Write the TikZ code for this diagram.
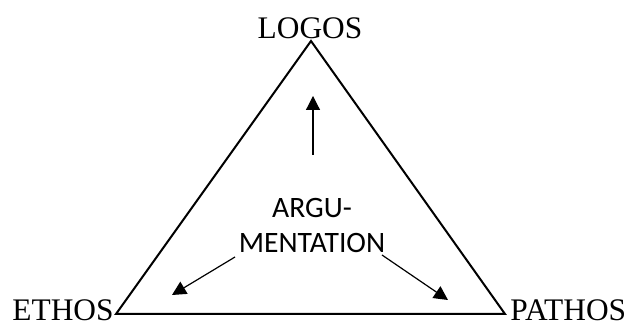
\documentclass[tikz,border=0pt]{standalone}
\usepackage{fontspec}
\setmainfont{Liberation Serif}
\newfontfamily\calibrifont{Carlito}
\usetikzlibrary{arrows.meta}
\tikzset{
  side/.style={line width=1pt, line join=miter},
  lbl/.style={inner sep=0pt, font=\fontsize{15.7}{18}\selectfont},
  midtext/.style={inner sep=0pt, anchor=base, font=\calibrifont\fontsize{14.8}{17}\selectfont},
  arr/.style={line width=0.6pt, -{Triangle[length=7pt,width=7pt]}}
}
\begin{document}
\begin{tikzpicture}[x=0.5pt,y=-0.5pt]
\useasboundingbox (0,0) rectangle (638,324);
% vertices
\coordinate (top) at (311,41);
\coordinate (bl) at (116,314);
\coordinate (br) at (505,314);
\draw[side] (top) -- (br) -- (bl) -- cycle;
% labels
\node[lbl, anchor=base] (logos) at (310,39) {LOGOS};
\node[lbl, anchor=base west] (ethos) at (12,321) {ETHOS};
\node[lbl, anchor=base west] (pathos) at (510,321) {PATHOS};
% centre text
\node[midtext] (argu) at (312,218) {ARGU-};
\node[midtext] (menta) at (312,253) {MENTATION};
% arrows
\coordinate (upstart) at (313,155);
\coordinate (uptip) at (313,96);
\coordinate (lstart) at (235,257);
\coordinate (ltip) at (172,295);
\coordinate (rstart) at (382,255);
\coordinate (rtip) at (448,300);
\draw[arr] (upstart) -- (uptip);
\draw[arr] (lstart) -- (ltip);
\draw[arr] (rstart) -- (rtip);
\end{tikzpicture}
\end{document}
